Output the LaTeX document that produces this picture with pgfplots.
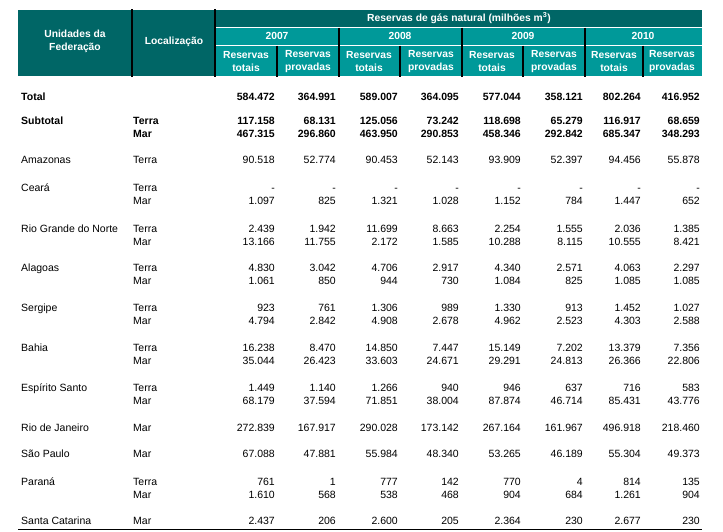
\documentclass[border=0pt]{standalone}
\usepackage{pgfplots}
\pgfplotsset{compat=1.18}
\usepackage{pgfplotstable}
\usepackage{fontspec}
\setmainfont{Liberation Sans}

\definecolor{tealdark}{RGB}{0,102,102}
\definecolor{teallight}{RGB}{0,153,153}

% linhas em negrito (Total / Subtotal)
\pgfplotstableread[col sep=comma]{
y,a,b,c,d,e,f,g,h
98,584.472,364.991,589.007,364.095,577.044,358.121,802.264,416.952
122,117.158,68.131,125.056,73.242,118.698,65.279,116.917,68.659
135,467.315,296.860,463.950,290.853,458.346,292.842,685.347,348.293
}\boldvals

\pgfplotstableread[col sep=comma]{
y,a,b,c,d,e,f,g,h
161,90.518,52.774,90.453,52.143,93.909,52.397,94.456,55.878
189,-,-,-,-,-,-,-,-
202,1.097,825,1.321,1.028,1.152,784,1.447,652
230,2.439,1.942,11.699,8.663,2.254,1.555,2.036,1.385
243,13.166,11.755,2.172,1.585,10.288,8.115,10.555,8.421
269,4.830,3.042,4.706,2.917,4.340,2.571,4.063,2.297
282,1.061,850,944,730,1.084,825,1.085,1.085
309,923,761,1.306,989,1.330,913,1.452,1.027
322,4.794,2.842,4.908,2.678,4.962,2.523,4.303,2.588
349,16.238,8.470,14.850,7.447,15.149,7.202,13.379,7.356
362,35.044,26.423,33.603,24.671,29.291,24.813,26.366,22.806
389,1.449,1.140,1.266,940,946,637,716,583
402,68.179,37.594,71.851,38.004,87.874,46.714,85.431,43.776
429,272.839,167.917,290.028,173.142,267.164,161.967,496.918,218.460
455,67.088,47.881,55.984,48.340,53.265,46.189,55.304,49.373
483,761,1,777,142,770,4,814,135
496,1.610,568,538,468,904,684,1.261,904
522,2.437,206,2.600,205,2.364,230,2.677,230
}\vals

\pgfplotstableread[col sep=comma]{
y,name
161,Amazonas
189,Ceará
230,Rio Grande do Norte
269,Alagoas
309,Sergipe
349,Bahia
389,Espírito Santo
429,Rio de Janeiro
455,São Paulo
483,Paraná
522,Santa Catarina
}\states

\pgfplotstableread[col sep=comma]{
y,loc
161,Terra
189,Terra
202,Mar
230,Terra
243,Mar
269,Terra
282,Mar
309,Terra
322,Mar
349,Terra
362,Mar
389,Terra
402,Mar
429,Mar
455,Mar
483,Terra
496,Mar
522,Mar
}\locs

\pgfplotstableread[col sep=comma]{
y,name
98,Total
122,Subtotal
}\boldnames

\pgfplotstableread[col sep=comma]{
y,loc
122,Terra
135,Mar
}\boldlocs

\pgfplotsset{
  cellR/.style={draw=none, every node near coord/.append style={anchor=mid east}},
  cellL/.style={draw=none, every node near coord/.append style={anchor=mid west}},
  bold/.style={every node near coord/.append style={font=\fontsize{10.5}{12}\selectfont\bfseries}},
}

\begin{document}
\begin{tikzpicture}
\begin{axis}[
    width=723pt, height=531pt, scale only axis,
    xmin=0, xmax=723, ymin=0, ymax=531,
    y dir=reverse,
    axis line style={draw=none}, xtick=\empty, ytick=\empty,
    clip=false,
    nodes near coords,
    point meta=explicit symbolic,
    every node near coord/.append style={inner sep=0pt, text=black, font=\fontsize{10.5}{12}\selectfont},
]
% cabeçalho
\fill[tealdark] (axis cs:18,10) rectangle (axis cs:702,76);
\fill[teallight] (axis cs:215,27.5) rectangle (axis cs:702,76);
\draw[white, line width=1pt] (axis cs:215,27.5) -- (axis cs:702,27.5);
\draw[white, line width=1pt] (axis cs:215,45.5) -- (axis cs:702,45.5);
\draw[line width=1.3pt] (axis cs:132,9) -- (axis cs:132,77);
\draw[line width=1.3pt] (axis cs:215,9) -- (axis cs:215,77);
\draw[line width=1.1pt] (axis cs:339,27.5) -- (axis cs:339,77);
\draw[line width=1.1pt] (axis cs:462,27.5) -- (axis cs:462,77);
\draw[line width=1.1pt] (axis cs:585,27.5) -- (axis cs:585,77);
\draw[line width=1.1pt] (axis cs:277,45.5) -- (axis cs:277,77);
\draw[line width=1.1pt] (axis cs:400,45.5) -- (axis cs:400,77);
\draw[line width=1.1pt] (axis cs:523,45.5) -- (axis cs:523,77);
\draw[line width=1.1pt] (axis cs:643,45.5) -- (axis cs:643,77);
\draw[line width=1.3pt] (axis cs:18,529.5) -- (axis cs:702,529.5);

\begin{scope}[every node/.style={text=white, font=\fontsize{10.3}{12.5}\selectfont\bfseries, align=center, inner sep=0pt}]
\node at (axis cs:75,41.5) {Unidades da\\Federação};
\node at (axis cs:174,42) {Localização};
\node at (axis cs:459,18) {Reservas de gás natural (milhões m\textsuperscript{3})};
\node at (axis cs:277,36) {2007};
\node at (axis cs:400,36) {2008};
\node at (axis cs:523,36) {2009};
\node at (axis cs:643,36) {2010};
\node at (axis cs:246,61.5) {Reservas\\totais};
\node at (axis cs:369,61.5) {Reservas\\totais};
\node at (axis cs:492,61.5) {Reservas\\totais};
\node at (axis cs:614,61.5) {Reservas\\totais};
\node at (axis cs:308,61.5) {Reservas\\provadas};
\node at (axis cs:431,61.5) {Reservas\\provadas};
\node at (axis cs:554,61.5) {Reservas\\provadas};
\node at (axis cs:672,61.5) {Reservas\\provadas};
\end{scope}

% rótulos das linhas
\addplot[cellL] table[x expr=21, y=y, meta=name] {\states};
\addplot[cellL] table[x expr=133, y=y, meta=loc] {\locs};
\addplot[cellL, bold] table[x expr=21, y=y, meta=name] {\boldnames};
\addplot[cellL, bold] table[x expr=133, y=y, meta=loc] {\boldlocs};

% valores
\addplot[cellR] table[x expr=275, y=y, meta=a] {\vals};
\addplot[cellR] table[x expr=336, y=y, meta=b] {\vals};
\addplot[cellR] table[x expr=398, y=y, meta=c] {\vals};
\addplot[cellR] table[x expr=459, y=y, meta=d] {\vals};
\addplot[cellR] table[x expr=521, y=y, meta=e] {\vals};
\addplot[cellR] table[x expr=583, y=y, meta=f] {\vals};
\addplot[cellR] table[x expr=641, y=y, meta=g] {\vals};
\addplot[cellR] table[x expr=700, y=y, meta=h] {\vals};
\addplot[cellR, bold] table[x expr=275, y=y, meta=a] {\boldvals};
\addplot[cellR, bold] table[x expr=336, y=y, meta=b] {\boldvals};
\addplot[cellR, bold] table[x expr=398, y=y, meta=c] {\boldvals};
\addplot[cellR, bold] table[x expr=459, y=y, meta=d] {\boldvals};
\addplot[cellR, bold] table[x expr=521, y=y, meta=e] {\boldvals};
\addplot[cellR, bold] table[x expr=583, y=y, meta=f] {\boldvals};
\addplot[cellR, bold] table[x expr=641, y=y, meta=g] {\boldvals};
\addplot[cellR, bold] table[x expr=700, y=y, meta=h] {\boldvals};
\end{axis}
\end{tikzpicture}
\end{document}
